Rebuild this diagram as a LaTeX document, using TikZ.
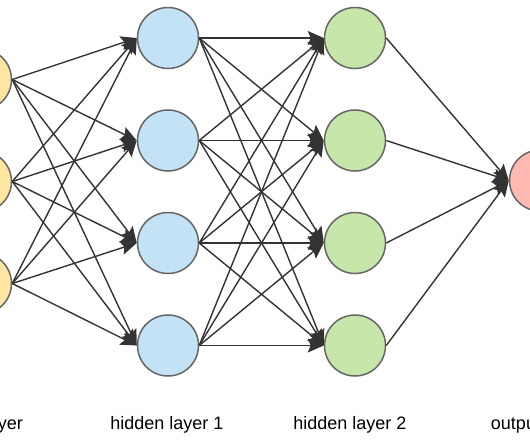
\documentclass[tikz,border=0pt]{standalone}
\usepackage{fontspec}
\setmainfont{Liberation Sans}
\usetikzlibrary{arrows.meta}
\definecolor{inputfill}{HTML}{FFE6A3}
\definecolor{hidafill}{HTML}{C3E2F5}
\definecolor{hidbfill}{HTML}{C6E6AA}
\definecolor{outfill}{HTML}{FFB8B2}
\definecolor{ringgray}{HTML}{666666}
\definecolor{edgegray}{HTML}{333333}
\tikzset{
  neuron/.style={circle, draw=ringgray, line width=1.5pt, minimum size=61pt, inner sep=0pt},
  edge/.style={draw=edgegray, line width=1.4pt, -{Stealth[length=16pt, width=14pt, inset=3pt]}},
  layername/.style={anchor=base, font=\fontsize{18}{21}\selectfont}
}
\begin{document}
\begin{tikzpicture}[x=1pt, y=-1pt]
\useasboundingbox (0,0) rectangle (530,442);
\node[neuron, fill=inputfill] (in1) at (-19,79.5) {};
\node[neuron, fill=inputfill] (in2) at (-19,181.5) {};
\node[neuron, fill=inputfill] (in3) at (-19,283.5) {};
\node[neuron, fill=hidafill] (ha1) at (168,38) {};
\node[neuron, fill=hidafill] (ha2) at (168,140.5) {};
\node[neuron, fill=hidafill] (ha3) at (168,243) {};
\node[neuron, fill=hidafill] (ha4) at (168,345.5) {};
\node[neuron, fill=hidbfill] (hb1) at (355,38) {};
\node[neuron, fill=hidbfill] (hb2) at (355,140.5) {};
\node[neuron, fill=hidbfill] (hb3) at (355,243) {};
\node[neuron, fill=hidbfill] (hb4) at (355,345.5) {};
\node[neuron, fill=outfill] (out) at (540,180.5) {};
\draw[edge] (in1.east) -- (ha1.west);
\draw[edge] (in1.east) -- (ha2.west);
\draw[edge] (in1.east) -- (ha3.west);
\draw[edge] (in1.east) -- (ha4.west);
\draw[edge] (in2.east) -- (ha1.west);
\draw[edge] (in2.east) -- (ha2.west);
\draw[edge] (in2.east) -- (ha3.west);
\draw[edge] (in2.east) -- (ha4.west);
\draw[edge] (in3.east) -- (ha1.west);
\draw[edge] (in3.east) -- (ha2.west);
\draw[edge] (in3.east) -- (ha3.west);
\draw[edge] (in3.east) -- (ha4.west);
\draw[edge] (ha1.east) -- (hb1.west);
\draw[edge] (ha1.east) -- (hb2.west);
\draw[edge] (ha1.east) -- (hb3.west);
\draw[edge] (ha1.east) -- (hb4.west);
\draw[edge] (ha2.east) -- (hb1.west);
\draw[edge] (ha2.east) -- (hb2.west);
\draw[edge] (ha2.east) -- (hb3.west);
\draw[edge] (ha2.east) -- (hb4.west);
\draw[edge] (ha3.east) -- (hb1.west);
\draw[edge] (ha3.east) -- (hb2.west);
\draw[edge] (ha3.east) -- (hb3.west);
\draw[edge] (ha3.east) -- (hb4.west);
\draw[edge] (ha4.east) -- (hb1.west);
\draw[edge] (ha4.east) -- (hb2.west);
\draw[edge] (ha4.east) -- (hb3.west);
\draw[edge] (ha4.east) -- (hb4.west);
\draw[edge] (hb1.east) -- (out.west);
\draw[edge] (hb2.east) -- (out.west);
\draw[edge] (hb3.east) -- (out.west);
\draw[edge] (hb4.east) -- (out.west);
\node[layername] (inlabel) at (-18.5,429) {input layer};
\node[layername] (halabel) at (167,429) {hidden layer 1};
\node[layername] (hblabel) at (350,429) {hidden layer 2};
\node[layername] (outlabel) at (538,429) {output layer};
\end{tikzpicture}
\end{document}
